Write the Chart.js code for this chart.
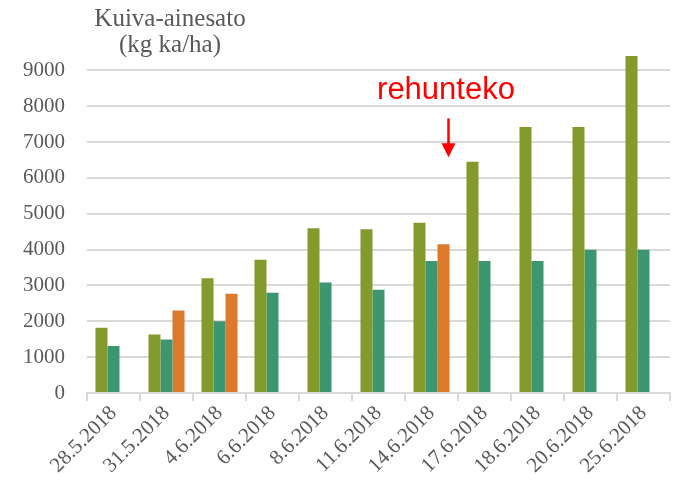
<!DOCTYPE html>
<html>
<head>
<meta charset="utf-8">
<script src="https://cdn.jsdelivr.net/npm/chart.js@4"></script>
<style>
  html, body { margin: 0; padding: 0; background: #fff; }
  #wrap { width: 686px; height: 493px; }
</style>
</head>
<body>
<div id="wrap"><canvas id="chart"></canvas></div>
<script>
const dates = ['28.5.2018', '31.5.2018', '4.6.2018', '6.6.2018', '8.6.2018', '11.6.2018',
  '14.6.2018', '17.6.2018', '18.6.2018', '20.6.2018', '25.6.2018'];
const olive = [1820, 1630, 3200, 3720, 4600, 4570, 4750, 6450, 7420, 7420, 9400];
const teal = [1310, 1490, 2000, 2800, 3080, 2880, 3680, 3680, 3680, 4000, 4000];
const orange = [null, 2300, 2770, null, null, null, 4150, null, null, null, null];
const yTicks = [0, 1000, 2000, 3000, 4000, 5000, 6000, 7000, 8000, 9000];

const grey = '#595959';
const serif = '"Liberation Serif", "DejaVu Serif", serif';

// title + "rehunteko" note with arrow
const extras = {
  id: 'extras',
  afterDraw(chart) {
    const c = chart.ctx;
    const x = chart.scales.x;
    const y = chart.scales.y;
    c.save();
    c.fillStyle = grey;
    c.font = '25px ' + serif;
    c.textAlign = 'center';
    c.textBaseline = 'alphabetic';
    c.fillText('Kuiva-ainesato', 170, 26);
    c.fillText('(kg ka/ha)', 170, 52);

    c.fillStyle = '#ff0000';
    c.strokeStyle = '#ff0000';
    c.font = '31px "Liberation Sans", Arial, sans-serif';
    c.fillText('rehunteko', 446, 99);
    const ax = x.getPixelForValue(6) + 17;
    const top = y.getPixelForValue(7660);
    const tip = y.getPixelForValue(6580);
    c.lineWidth = 2.5;
    c.beginPath();
    c.moveTo(ax, top);
    c.lineTo(ax, tip - 10);
    c.stroke();
    c.beginPath();
    c.moveTo(ax - 7, tip - 14);
    c.lineTo(ax + 7, tip - 14);
    c.lineTo(ax, tip);
    c.closePath();
    c.fill();
    c.restore();
  }
};

new Chart(document.getElementById('chart'), {
  type: 'bar',
  data: {
    labels: dates,
    datasets: [
      { label: 'a', data: olive, backgroundColor: '#839A2C' },
      { label: 'b', data: teal, backgroundColor: '#3C9670' },
      { label: 'c', data: orange, backgroundColor: '#DD792A' }
    ]
  },
  options: {
    responsive: true,
    maintainAspectRatio: false,
    animation: false,
    layout: { padding: { top: 0, right: 16, left: 8, bottom: 0 } },
    plugins: { legend: { display: false }, tooltip: { enabled: false } },
    datasets: { bar: { categoryPercentage: 0.68, barPercentage: 1 } },
    scales: {
      x: {
        grid: { offset: true, drawOnChartArea: false, color: '#d9d9d9', lineWidth: 2, tickLength: 8 },
        border: { color: '#d9d9d9', width: 2 },
        ticks: { color: grey, font: { family: serif, size: 21 }, maxRotation: 45, minRotation: 45, padding: 0 },
        afterFit(axis) { axis.height = 100; }
      },
      y: {
        min: 0,
        max: 10000,
        afterBuildTicks(axis) { axis.ticks = yTicks.map(v => ({ value: v })); },
        afterFit(axis) { axis.width = 79; },
        grid: { color: '#d9d9d9', lineWidth: 2, drawTicks: false },
        border: { display: false },
        ticks: { color: grey, font: { family: serif, size: 21 }, padding: 22, callback: v => String(v) }
      }
    }
  },
  plugins: [extras]
});
</script>
</body>
</html>
